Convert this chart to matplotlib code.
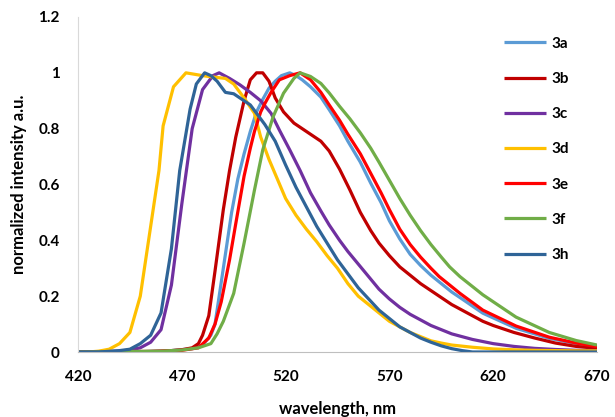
import matplotlib.pyplot as plt

# emission spectra
wl_3a = [420, 450, 465, 475, 480, 484, 486, 488, 491, 494, 497, 500, 503, 506, 509, 512, 515, 518, 522, 525, 528,
         532, 537, 541, 546, 550, 556, 561, 566, 570, 575, 580, 585, 590, 595, 600, 605, 615, 631, 647, 660, 670]
int_3a = [0, 0.001, 0.005, 0.012, 0.025, 0.06, 0.1, 0.2, 0.35, 0.5, 0.62, 0.71, 0.79, 0.86, 0.905, 0.945, 0.97, 0.99,
          1.0, 0.99, 0.975, 0.95, 0.913, 0.868, 0.81, 0.755, 0.68, 0.605, 0.535, 0.47, 0.405, 0.35, 0.31, 0.275,
          0.245, 0.215, 0.19, 0.139, 0.085, 0.049, 0.03, 0.017]

wl_3b = [420, 460, 470, 475, 478, 480, 483, 486, 490, 493, 496, 500, 503, 506, 509, 512, 515, 519, 524, 529, 533,
         537, 541, 546, 551, 556, 561, 565, 570, 575, 580, 585, 590, 595, 600, 605, 610, 615, 620, 630, 640, 650,
         660, 670]
int_3b = [0, 0.002, 0.008, 0.015, 0.03, 0.06, 0.13, 0.29, 0.51, 0.65, 0.77, 0.9, 0.975, 1.0, 1.0, 0.97, 0.91, 0.86,
          0.82, 0.795, 0.775, 0.755, 0.72, 0.655, 0.58, 0.5, 0.435, 0.39, 0.345, 0.305, 0.275, 0.245, 0.22, 0.195,
          0.17, 0.15, 0.13, 0.11, 0.095, 0.07, 0.05, 0.032, 0.02, 0.013]

wl_3c = [420, 440, 445, 450, 455, 460, 465, 470, 475, 480, 485, 488, 493, 498, 503, 508, 513, 517, 522, 527, 532,
         537, 541, 546, 550, 555, 560, 565, 570, 575, 580, 585, 590, 595, 600, 610, 620, 630, 640, 650, 660, 670]
int_3c = [0, 0.003, 0.007, 0.015, 0.035, 0.08, 0.24, 0.53, 0.8, 0.94, 0.99, 1.0, 0.98, 0.957, 0.93, 0.9, 0.855,
          0.795, 0.724, 0.65, 0.57, 0.505, 0.455, 0.4, 0.36, 0.315, 0.27, 0.225, 0.19, 0.16, 0.135, 0.115, 0.095,
          0.08, 0.065, 0.045, 0.03, 0.02, 0.013, 0.009, 0.006, 0.005]

wl_3d = [420, 425, 430, 435, 440, 445, 450, 455, 459, 461, 466, 472, 480, 485, 491, 495, 498, 500, 505, 508, 512,
         516, 520, 525, 530, 535, 540, 545, 550, 555, 560, 565, 570, 575, 580, 585, 590, 595, 600, 610, 620, 630,
         640, 650, 660, 670]
int_3d = [0, 0, 0.003, 0.01, 0.03, 0.07, 0.2, 0.45, 0.65, 0.81, 0.95, 1.0, 0.99, 0.985, 0.98, 0.96, 0.93, 0.91,
          0.855, 0.77, 0.69, 0.62, 0.55, 0.49, 0.44, 0.395, 0.345, 0.3, 0.245, 0.2, 0.17, 0.14, 0.11, 0.09, 0.07,
          0.055, 0.04, 0.032, 0.025, 0.017, 0.011, 0.008, 0.006, 0.005, 0.004, 0.004]

wl_3e = [420, 455, 470, 478, 483, 486, 489, 493, 496, 498, 500, 503, 505, 508, 510, 513, 517, 522, 527, 532, 537,
         541, 546, 550, 556, 561, 566, 570, 575, 580, 585, 590, 594, 599, 604, 615, 631, 647, 660, 670]
int_3e = [0, 0.002, 0.006, 0.015, 0.05, 0.1, 0.18, 0.33, 0.46, 0.545, 0.63, 0.73, 0.79, 0.86, 0.89, 0.93, 0.975,
          0.99, 1.0, 0.975, 0.93, 0.885, 0.83, 0.78, 0.71, 0.64, 0.57, 0.51, 0.44, 0.385, 0.34, 0.3, 0.27, 0.24,
          0.21, 0.15, 0.093, 0.053, 0.032, 0.019]

wl_3f = [420, 460, 470, 478, 484, 487, 490, 495, 500, 505, 509, 514, 519, 524, 527, 532, 537, 541, 546, 551, 556,
         561, 565, 570, 575, 580, 585, 590, 595, 599, 604, 615, 631, 647, 660, 670]
int_3f = [0, 0.003, 0.007, 0.015, 0.03, 0.065, 0.11, 0.21, 0.39, 0.58, 0.724, 0.843, 0.927, 0.98, 1.0, 0.987, 0.962,
          0.928, 0.88, 0.835, 0.785, 0.73, 0.68, 0.615, 0.55, 0.49, 0.435, 0.385, 0.34, 0.305, 0.27, 0.205, 0.125,
          0.07, 0.041, 0.025]

wl_3h = [420, 430, 440, 445, 450, 455, 460, 465, 469, 474, 477, 481, 484, 487, 489, 491, 495, 498, 503, 506, 510,
         515, 520, 525, 530, 535, 540, 545, 550, 555, 560, 565, 570, 575, 580, 585, 590, 595, 600, 605, 610, 620,
         640, 670]
int_3h = [0, 0, 0.005, 0.01, 0.03, 0.06, 0.14, 0.37, 0.65, 0.87, 0.96, 1.0, 0.99, 0.97, 0.95, 0.93, 0.925, 0.91,
          0.885, 0.855, 0.815, 0.755, 0.67, 0.59, 0.52, 0.45, 0.39, 0.33, 0.28, 0.23, 0.19, 0.15, 0.12, 0.09, 0.07,
          0.05, 0.035, 0.022, 0.012, 0.005, 0.0, 0.0, 0.0, 0.0]

labels = ['3a', '3b', '3c', '3d', '3e', '3f', '3h']
colors = ['#5B9BD5', '#C00000', '#7030A0', '#FFC000', '#FF0000', '#70AD47', '#2F6497']
series = [(wl_3a, int_3a), (wl_3b, int_3b), (wl_3c, int_3c), (wl_3d, int_3d),
          (wl_3e, int_3e), (wl_3f, int_3f), (wl_3h, int_3h)]

xticks = [420, 470, 520, 570, 620, 670]
yticks = [0, 0.2, 0.4, 0.6, 0.8, 1.0, 1.2]
ytick_labels = ['0', '0.2', '0.4', '0.6', '0.8', '1', '1.2']

plt.rcParams['font.family'] = ['Lato', 'DejaVu Sans']
plt.rcParams['font.weight'] = 'bold'

fig = plt.figure(figsize=(6.15, 4.17), dpi=100)
ax = fig.add_axes([78 / 615, 1 - 352 / 417, (597 - 78) / 615, (352 - 17) / 417])

for (x, y), lab, c in zip(series, labels, colors):
    ax.plot(x, y, color=c, lw=2.3, label=lab, solid_capstyle='butt', solid_joinstyle='round')

ax.set_xlim(420, 670)
ax.set_ylim(0, 1.2)
ax.set_xticks(xticks)
ax.set_xticklabels([str(t) for t in xticks], fontsize=11, fontweight='bold')
ax.set_yticks(yticks)
ax.set_yticklabels(ytick_labels, fontsize=11, fontweight='bold')
ax.tick_params(length=0)
ax.tick_params(axis='x', pad=13)
ax.tick_params(axis='y', pad=13)

for s in ['top', 'right']:
    ax.spines[s].set_visible(False)
ax.spines['left'].set_color('#D9D9D9')
ax.spines['bottom'].set_color('#BFBFBF')
ax.spines['left'].set_linewidth(0.8)
ax.spines['bottom'].set_linewidth(0.8)

ax.set_xlabel('wavelength, nm', fontsize=12, fontweight='bold', labelpad=12)
ax.set_ylabel('normalized intensity a.u.', fontsize=12, fontweight='bold', labelpad=8)

leg = ax.legend(loc='upper left', bbox_to_anchor=(496 / 615, 1 - 29 / 417), bbox_transform=fig.transFigure,
                frameon=False, fontsize=11, handlelength=2.8, handletextpad=0.3, labelspacing=1.39,
                borderpad=0)
for t in leg.get_texts():
    t.set_fontweight('bold')

fig.savefig('out.png', dpi=100)
